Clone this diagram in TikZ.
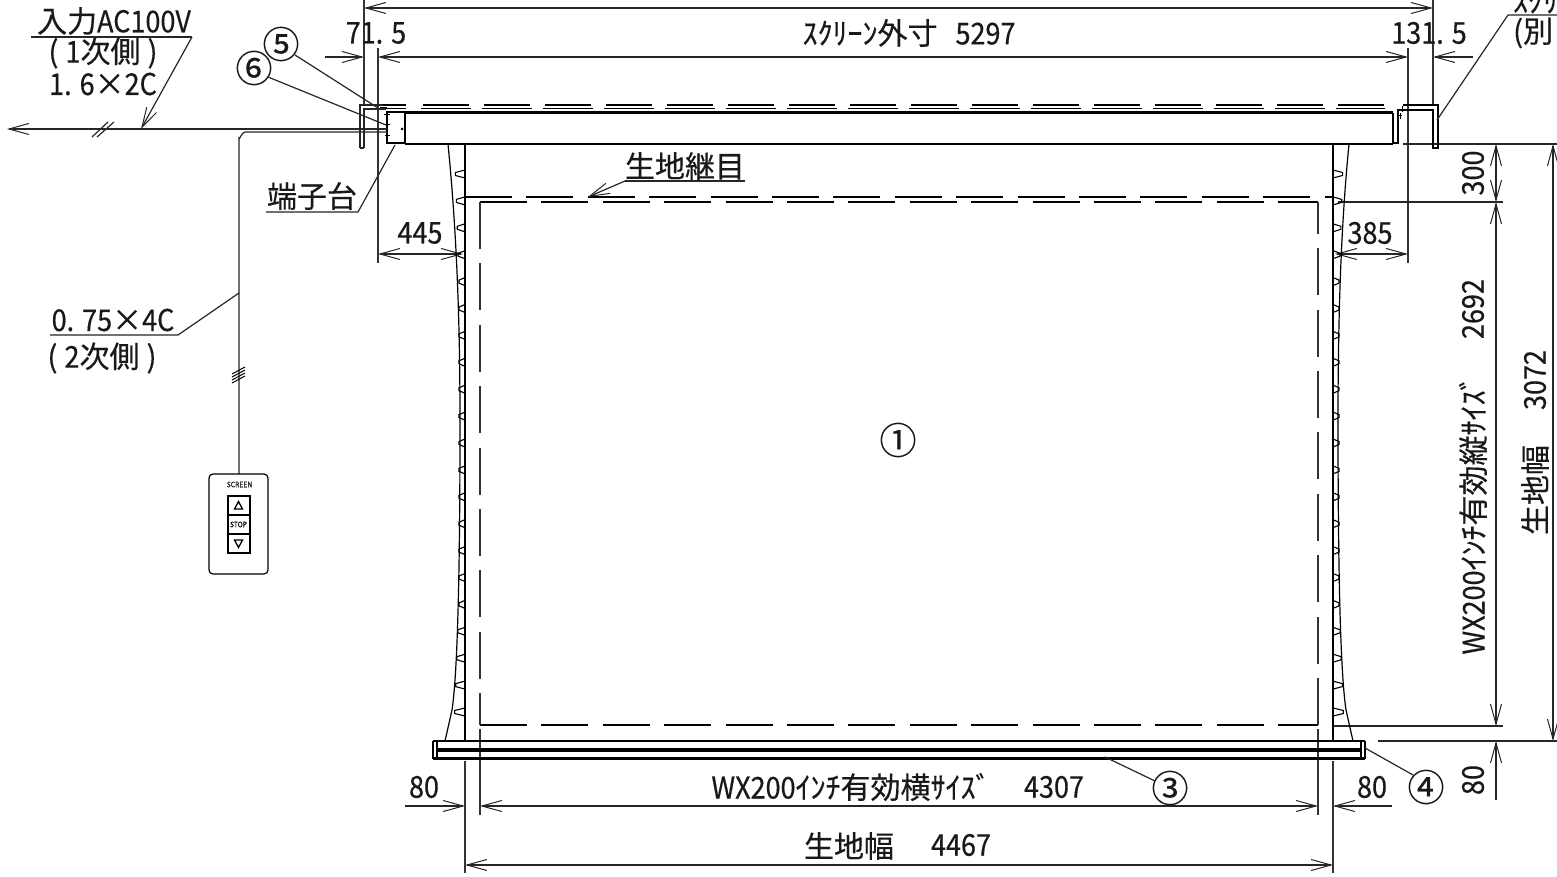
\documentclass[tikz,border=0pt]{standalone}
\usepackage{fontspec}
\usetikzlibrary{arrows.meta}
\newfontfamily\jp[FakeBold=.4]{Noto Sans CJK JP}
\newfontfamily\la[FakeStretch=.9,FakeBold=.4]{Noto Sans CJK JP}
\newcommand\LL[1]{{\la #1}}
\tikzset{
  every picture/.style={x=1pt,y=-1pt,line cap=butt,>={Straight Barb[length=20pt,width=11pt,line width=1pt]}},
  ln/.style={line width=1.2pt,draw=black!85},
  thk/.style={line width=2pt,draw=black},
  extl/.style={line width=1.3pt,draw=black!80},
  dim/.style={line width=1.2pt,draw=black!85,<->},
  arrR/.style={line width=1.2pt,draw=black!85,->},
  txt/.style={inner sep=0pt,outer sep=0pt,font=\fontsize{30}{30}\selectfont\jp,text=black!90},
  rtxt/.style={txt,rotate=90},
  circ/.style={inner sep=0pt,outer sep=0pt,font=\fontsize{37}{37}\selectfont\jp,text=black!90},
  tiny/.style={inner sep=0pt,outer sep=0pt,font=\fontsize{7.5}{8}\selectfont\la,text=black!90},
  leader/.style={line width=1.2pt,draw=black!85},
  dashH/.style={line width=1.1pt,dash pattern=on 47pt off 14.4pt},
  dashV/.style={line width=1.5pt,draw=black!80,dash pattern=on 47pt off 14.4pt},
}
\begin{document}
\begin{tikzpicture}
\useasboundingbox (0,0) rectangle (1557,877);
\fill[white] (0,0) rectangle (1557,877);
% extension lines
\draw[extl] (364,0)--(364,105) (1433,0)--(1433,105);
\draw[extl] (378,48)--(378,263) (1408,48)--(1408,263);
\draw[extl] (465,761)--(465,873) (1333,761)--(1333,873);
\draw[extl] (480,729)--(480,815) (1318,729)--(1318,815);
\draw[ln] (1338,202)--(1503,202) (1333,726)--(1503,726) (1378,741)--(1557,741);
\draw[ln] (1403,144)--(1557,144);
% horizontal dims
\draw[dim] (364,8)--(1433,8);
\draw[dim] (378,57)--(1408,57);
\draw[arrR] (325,57)--(364,57);
\draw[arrR] (1473,57)--(1433,57);
\draw[dim] (378,254)--(463,254);
\draw[dim] (1335,254)--(1408,254);
\draw[dim] (480,806)--(1318,806);
\draw[arrR] (405,806)--(465,806);
\draw[arrR] (1392,806)--(1333,806);
\draw[dim] (465,865)--(1333,865);
% vertical dims
\draw[dim] (1496,144)--(1496,202);
\draw[dim] (1496,202)--(1496,726);
\draw[dim] (1553,144)--(1553,741);
\draw[arrR] (1496,800)--(1496,741);
% case
\draw[line width=1.3pt,draw=black!85] (360,148)--(360,105)--(383,105) (364,148)--(364,109)--(386,109) (360,148)--(364,148);
\draw[thk] (387,112)--(405,112)--(405,143)--(387,143)--cycle;
\draw[line width=1pt] (380,108)--(387,108) (384,115)--(390,115) (385,125)--(390,125) (385,136)--(390,136);
\fill (402,129) circle (1.5pt);
\draw[line width=2.6pt] (405,112.5)--(1393,112.5);
\draw[line width=1.6pt] (405,144)--(1393,144);
\draw[line width=1.3pt] (1393,113)--(1393,143)--(1398,143)--(1398,113) (1393,143.5)--(1398,143.5);
\draw[line width=1.3pt] (1398,118)--(1398,110)--(1433,110)--(1433,148)--(1438,148)--(1438,105)--(1403,105);
\draw[line width=1pt] (1397,116)--(1402,116) (1400,113)--(1400,119) (1402,106)--(1402,112);
% double dashes on top
\draw[line width=1.1pt] (383,105)--(406,105) (386,108.5)--(406,108.5);
\draw[line width=1.1pt,dash pattern=on 46pt off 15pt] (423,105)--(1385,105);
\draw[line width=1.1pt,dash pattern=on 50pt off 11pt] (421,108.5)--(1385,108.5);
% fabric
\draw[line width=1.5pt] (465,144)--(465,741);
\draw[line width=1.5pt] (1333,144)--(1333,741);
\draw[line width=1.2pt] (448,144) .. controls (455,215) and (460,300) .. (460,420) .. controls (460,560) and (458,670) .. (452,710) -- (445,741);
\draw[line width=1.2pt] (1349,144) .. controls (1342,215) and (1338,300) .. (1338,420) .. controls (1338,560) and (1340,670) .. (1346,710) -- (1353,741);
\foreach \k in {0,...,20}{
  \pgfmathsetmacro\yy{174+26.9*\k}
  \pgfmathsetmacro\d{\k<4?(4-\k)*0.9:(\k>16?(\k-16)*1.1:0)}
  \draw[line width=1.1pt] (465,\yy-4)--(459-\d,\yy-1.5)--(459-\d,\yy+1.5)--(465,\yy+4);
  \draw[line width=1.1pt] (1333,\yy-4)--(1339+\d,\yy-1.5)--(1339+\d,\yy+1.5)--(1333,\yy+4);
}
% dashed seam and effective area
\draw[dashH] (465,197)--(1333,197);
\draw[dashH] (480,202)--(1318,202);
\draw[dashH] (480,725)--(1318,725);
\draw[dashV] (480,202)--(480,725);
\draw[dashV] (1318,725)--(1318,202);
% bottom bar
\draw[line width=2.4pt] (433,741)--(1365,741);
\draw[line width=3.2pt] (437,750)--(1361,750);
\draw[line width=2.4pt] (433,758.5)--(1365,758.5);
\draw[line width=1.2pt] (433,741)--(433,759) (437,741)--(437,759) (1361,741)--(1361,759) (1365,741)--(1365,759);
% wiring
\draw[arrR] (387,129)--(7,129);
\draw[ln] (387,132)--(245,132) to[out=180,in=-90] (239,138) -- (239,474);
\draw[ln] (92,137)--(108,122) (97,137)--(114,122);
\foreach \a in {0,1,2,3}{\draw[line width=1pt] (232,374+\a*3)--(245,367+\a*3);}
% remote
\node[draw,line width=1.2pt,rounded corners=4pt,minimum width=59pt,minimum height=100pt,inner sep=0pt] (remote) at (238.5,524) {};
\node[tiny] (scr) at (239.5,484.5) {SCREEN};
\node[draw,line width=2pt,minimum width=22pt,minimum height=19pt,inner sep=0pt] (b1) at (238.5,505) {};
\node[draw,line width=2pt,minimum width=22pt,minimum height=19pt,inner sep=0pt,font=\fontsize{7.5}{8}\selectfont\la] (b2) at (238.5,524.5) {STOP};
\node[draw,line width=2pt,minimum width=22pt,minimum height=19pt,inner sep=0pt] (b3) at (238.5,543.5) {};
\draw[line width=1.3pt] (234.5,509)--(238.5,501.5)--(242.5,509)--cycle;
\draw[line width=1.3pt] (234.5,540)--(238.5,547.5)--(242.5,540)--cycle;
% labels
\node[txt] (l1) at (114,21) {入力\LL{AC100V}};
\node[txt] (l1b) at (103,53) {(\hspace{7pt}\LL{1}次側\hspace{7pt})};
\node[txt] (l1c) at (103,84) {\LL{1.\hspace{8pt}6}×\LL{2C}};
\draw[leader] (31,37)--(192,37);
\draw[arrR] (192,37)--(141,129);
\node[circ] (c5) at (281,44) {⑤};
\node[circ] (c6) at (254,68) {⑥};
\draw[leader] (295,55)--(378,108);
\draw[leader] (268,77)--(386,125);
\node[txt] (tanshi) at (312,196) {端子台};
\draw[leader] (266,212)--(358,212)--(395,145);
\node[txt] (seam) at (685,166) {生地継目};
\draw[leader] (745,181)--(625,181);
\draw[arrR] (625,181)--(588,197);
\node[txt] (d715) at (376,33) {\LL{71.\hspace{8pt}5}};
\node[txt] (d1315) at (1429,33) {\LL{131.\hspace{8pt}5}};
\node[txt] (d5297) at (909,33) {ｽｸﾘｰﾝ外寸\hspace{18pt}\LL{5297}};
\node[txt] (d445) at (420,233) {\LL{445}};
\node[txt] (d385) at (1370,233) {\LL{385}};
\node[txt] (ltop) [anchor=west] at (1513,1) {ｽｸﾘ};
\node[txt] (lpar) [anchor=west] at (1513,33) {(別};
\draw[leader] (1557,15)--(1508,15)--(1437,120);
\node[txt] (w1) at (113,320) {\LL{0.\hspace{8pt}75}×\LL{4C}};
\draw[leader] (50,335)--(178,335)--(239,293);
\node[txt] (w2) at (102,358) {(\hspace{7pt}\LL{2}次側\hspace{7pt})};
\node[circ] (c1) at (898,440) {①};
\node[txt] (wxh) at (851,787) {\LL{WX200}ｲﾝﾁ有効横ｻｲｽﾞ};
\node[txt] (d4307) at (1054,787) {\LL{4307}};
\node[circ] (c3) at (1170,788) {③};
\draw[leader] (1155,781)--(1105,757);
\node[circ] (c4) at (1426,787) {④};
\draw[leader] (1413,775)--(1365,748);
\node[txt] (d80l) at (424,787) {\LL{80}};
\node[txt] (d80r) at (1372,787) {\LL{80}};
\node[txt] (fab) at (849,846) {生地幅};
\node[txt] (d4467) at (961,845) {\LL{4467}};
\node[rtxt] (v300) at (1473,173) {\LL{300}};
\node[rtxt] (v2692) at (1473,309) {\LL{2692}};
\node[rtxt] (vwx) at (1473,515) {\LL{WX200}ｲﾝﾁ有効縦ｻｲｽﾞ};
\node[rtxt] (v80) at (1473,780) {\LL{80}};
\node[rtxt] (v3072) at (1535,380) {\LL{3072}};
\node[rtxt] (vfab) at (1535,490) {生地幅};
\end{tikzpicture}
\end{document}
